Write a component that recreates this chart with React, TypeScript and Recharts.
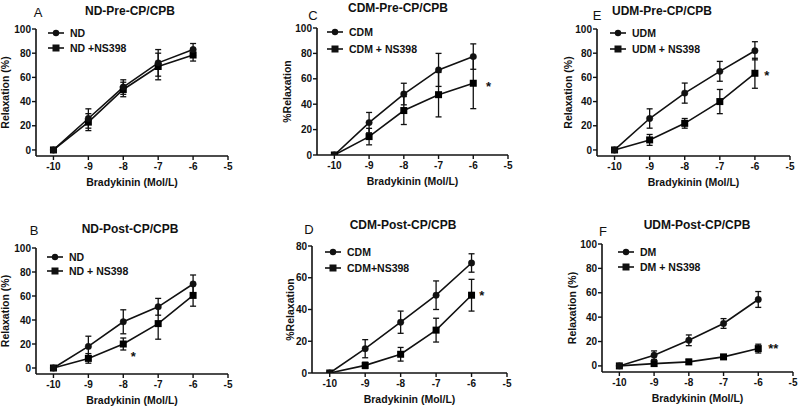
import React from 'react';
import { LineChart, Line, XAxis, YAxis, ErrorBar, ReferenceDot } from 'recharts';

const doses = [-10, -9, -8, -7, -6];
const xTicks = [-10, -9, -8, -7, -6, -5];
const yTicks100 = [0, 20, 40, 60, 80, 100];
const yTicks80 = [0, 20, 40, 60, 80];

// Panel A: ND-Pre-CP/CPB
const aCtrl = [0, 26, 52, 72, 83];
const aCtrlErr = [0, 8, 6, 11, 5];
const aNs = [0, 23, 50, 69, 78.5];
const aNsErr = [0, 7, 6, 11, 5];

// Panel B: ND-Post-CP/CPB
const bCtrl = [0, 18, 38.5, 51, 70];
const bCtrlErr = [0, 8.5, 10, 7, 7.5];
const bNs = [0, 8, 20, 37, 60.5];
const bNsErr = [0, 4, 5, 13, 9];

// Panel C: CDM-Pre-CP/CPB
const cCtrl = [0, 25.5, 48, 67, 77.5];
const cCtrlErr = [0, 8, 8.5, 13, 10];
const cNs = [0, 14.5, 35, 47.5, 56.5];
const cNsErr = [0, 6.5, 11, 17.5, 20];

// Panel D: CDM-Post-CP/CPB
const dCtrl = [0, 15.3, 32, 49, 69.3];
const dCtrlErr = [0, 5.7, 7, 9, 5.8];
const dNs = [0, 4.8, 11.8, 27, 49];
const dNsErr = [0, 2, 4.3, 7.5, 10];

// Panel E: UDM-Pre-CP/CPB
const eCtrl = [0, 26, 47, 65, 82];
const eCtrlErr = [0, 8, 8.3, 8.2, 7.5];
const eNs = [0, 8.3, 22, 40, 63.4];
const eNsErr = [0, 4.5, 4, 10, 12.4];

// Panel F: UDM-Post-CP/CPB
const fCtrl = [0, 8.8, 21, 34.8, 54.5];
const fCtrlErr = [0, 3.5, 4.4, 4, 6.5];
const fNs = [0, 1.9, 3.3, 7.4, 14.2];
const fNsErr = [0, 2, 2, 1.5, 3.6];

const titles = ['ND-Pre-CP/CPB', 'ND-Post-CP/CPB', 'CDM-Pre-CP/CPB', 'CDM-Post-CP/CPB', 'UDM-Pre-CP/CPB', 'UDM-Post-CP/CPB'];
const letters = ['A', 'B', 'C', 'D', 'E', 'F'];
const ctrlNames = ['ND', 'ND', 'CDM', 'CDM', 'UDM', 'DM'];
const nsNames = ['ND +NS398', 'ND + NS398', 'CDM + NS398', 'CDM+NS398', 'UDM + NS398', 'DM + NS398'];
const yLabels = ['Relaxation (%)', 'Relaxation (%)', '%Relaxation', '%Relaxation', 'Relaxation (%)', 'Relaxation (%)'];
const xLabel = 'Bradykinin (Mol/L)';
const stars = [null, { x: -7.71, y: 10, t: '*' }, { x: -5.56, y: 53.8, t: '*' }, { x: -5.71, y: 49.2, t: '*' }, { x: -5.66, y: 62, t: '*' }, { x: -5.57, y: 14, t: '**' }];

const seriesSets = [
  [aCtrl, aCtrlErr, aNs, aNsErr],
  [bCtrl, bCtrlErr, bNs, bNsErr],
  [cCtrl, cCtrlErr, cNs, cNsErr],
  [dCtrl, dCtrlErr, dNs, dNsErr],
  [eCtrl, eCtrlErr, eNs, eNsErr],
  [fCtrl, fCtrlErr, fNs, fNsErr],
];

const yDomains: [number, number][] = [[-5, 100], [-5, 100], [0, 100], [0, 80], [-5, 100], [-5, 100]];
const yTickSets = [yTicks100, yTicks100, yTicks100, yTicks80, yTicks100, yTicks100];

// layout (page pixels): plot-left, plot-top, plot-width, plot-height
const layout = [
  { l: 36, t: 29, w: 192, h: 127, yl: 31, tx: 130, ty: 11, lx: 38, ly: 12, legL: 12, legT: 4, legGap: 15 },
  { l: 36, t: 248, w: 192, h: 126, yl: 31, tx: 130, ty: 229, lx: 34, ly: 230, legL: 11, legT: 9, legGap: 14 },
  { l: 317, t: 28, w: 191, h: 127, yl: 30, tx: 398, ty: 8, lx: 313, ly: 15, legL: 10, legT: 4, legGap: 17 },
  { l: 312, t: 246, w: 195, h: 127, yl: 22, tx: 403, ty: 225, lx: 309, ly: 229, legL: 13, legT: 6, legGap: 16 },
  { l: 597, t: 29, w: 193, h: 127, yl: 29, tx: 662, ty: 11, lx: 597, ly: 15, legL: 13, legT: 4, legGap: 16 },
  { l: 602, t: 244, w: 191, h: 128, yl: 30, tx: 697, ty: 225, lx: 603, ly: 231, legL: 16, legT: 8, legGap: 15 },
];

const FONT = '"Liberation Sans", Arial, Helvetica, sans-serif';
const YW = 40;
const MT = 12;
const MR = 10;
const XH = 34;

const SquareDot = (props: any) => {
  const { cx, cy } = props;
  if (cx == null || cy == null) return null;
  return <rect x={cx - 3.5} y={cy - 3.5} width={7} height={7} fill="#000" />;
};

const tickStyle = { fontSize: 10, fontWeight: 700, fill: '#111', fontFamily: FONT };

function Panel({ i }: { i: number }) {
  const L = layout[i];
  const [ctrl, ctrlErr, ns, nsErr] = seriesSets[i];
  const data = doses.map((x, k) => ({ x, ctrl: ctrl[k], ctrlErr: ctrlErr[k], ns: ns[k], nsErr: nsErr[k] }));
  const width = YW + L.w + MR;
  const height = MT + L.h + XH;
  const star = stars[i];
  return (
    <div style={{ position: 'absolute', left: L.l - YW, top: L.t - MT, width, height }}>
      <LineChart width={width} height={height} data={data} margin={{ top: MT, right: MR, bottom: 0, left: 0 }}>
        <XAxis
          type="number"
          dataKey="x"
          domain={[-10.5, -5]}
          ticks={xTicks}
          allowDataOverflow
          height={XH}
          tickSize={4}
          tickMargin={3}
          tick={tickStyle}
          axisLine={{ stroke: '#111', strokeWidth: 1.6 }}
          tickLine={{ stroke: '#111', strokeWidth: 1.4 }}
          label={{ value: xLabel, position: 'insideBottom', offset: 4, style: { fontSize: 10.5, fontWeight: 700, fill: '#111', fontFamily: FONT } }}
        />
        <YAxis
          type="number"
          domain={yDomains[i]}
          ticks={yTickSets[i]}
          allowDataOverflow
          width={YW}
          tickSize={4}
          tickMargin={1}
          tick={tickStyle}
          axisLine={{ stroke: '#111', strokeWidth: 1.6 }}
          tickLine={{ stroke: '#111', strokeWidth: 1.4 }}
          label={{ value: yLabels[i], angle: -90, position: 'insideLeft', offset: YW - L.yl, style: { textAnchor: 'middle', fontSize: 10.5, fontWeight: 700, fill: '#111', fontFamily: FONT } }}
        />
        <Line type="linear" dataKey="ns" stroke="#111" strokeWidth={1.6} dot={<SquareDot />} isAnimationActive={false}>
          <ErrorBar dataKey="nsErr" width={3} stroke="#111" strokeWidth={1.3} direction="y" />
        </Line>
        <Line type="linear" dataKey="ctrl" stroke="#111" strokeWidth={1.6} dot={{ r: 3.2, fill: '#111', stroke: '#111', strokeWidth: 0.5 }} isAnimationActive={false}>
          <ErrorBar dataKey="ctrlErr" width={3} stroke="#111" strokeWidth={1.3} direction="y" />
        </Line>
        {star && (
          <ReferenceDot
            x={star.x}
            y={star.y}
            r={0}
            fill="none"
            stroke="none"
            label={{ value: star.t, position: 'center', style: { fontSize: 13, fontWeight: 700, fill: '#111', fontFamily: FONT } }}
          />
        )}
      </LineChart>
    </div>
  );
}

function Legend({ i }: { i: number }) {
  const L = layout[i];
  const x0 = L.l + L.legL;
  const y0 = L.t + L.legT;
  return (
    <svg style={{ position: 'absolute', left: x0, top: y0 - 8, overflow: 'visible' }} width={110} height={40}>
      <g>
        <line x1={0} y1={8} x2={16} y2={8} stroke="#111" strokeWidth={1.6} />
        <circle cx={8} cy={8} r={3.2} fill="#111" />
        <text x={22} y={8} dy="0.36em" fontSize={10.5} fontWeight={700} fontFamily={FONT} fill="#111">{ctrlNames[i]}</text>
      </g>
      <g>
        <line x1={0} y1={8 + L.legGap} x2={16} y2={8 + L.legGap} stroke="#111" strokeWidth={1.6} />
        <rect x={4.5} y={8 + L.legGap - 3.5} width={7} height={7} fill="#111" />
        <text x={22} y={8 + L.legGap} dy="0.36em" fontSize={10.5} fontWeight={700} fontFamily={FONT} fill="#111">{nsNames[i]}</text>
      </g>
    </svg>
  );
}

export default function App() {
  return (
    <div style={{ position: 'absolute', left: 0, top: 0, width: 800, height: 407, background: '#fff', fontFamily: FONT }}>
      {layout.map((L, i) => (
        <React.Fragment key={i}>
          <Panel i={i} />
          <Legend i={i} />
          <div style={{ position: 'absolute', left: L.tx, top: L.ty, transform: 'translate(-50%, -50%)', fontSize: 12, fontWeight: 700, lineHeight: 1, whiteSpace: 'nowrap', color: '#111' }}>
            {titles[i]}
          </div>
          <div style={{ position: 'absolute', left: L.lx, top: L.ly, transform: 'translate(-50%, -50%)', fontSize: 13, lineHeight: 1, color: '#111' }}>
            {letters[i]}
          </div>
        </React.Fragment>
      ))}
    </div>
  );
}
